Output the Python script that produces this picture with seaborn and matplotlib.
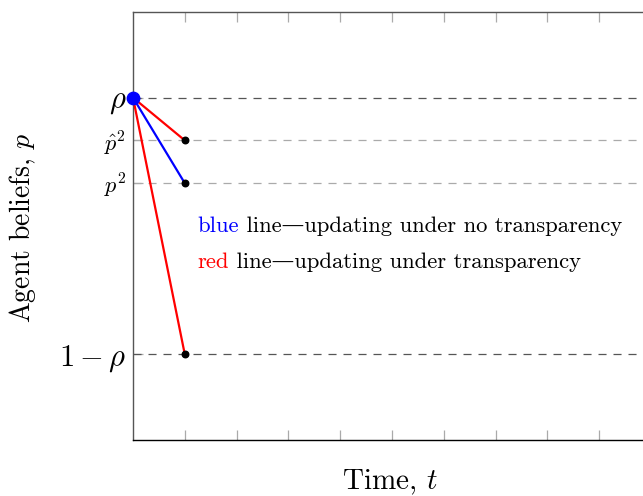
import matplotlib
matplotlib.use("Agg")
import matplotlib.pyplot as plt
import seaborn as sns
import pandas as pd

# beliefs
t = [0, 1]
rho = 0.8
p_hat2 = 0.7
p2 = 0.6
one_minus_rho = 0.2

levels = [rho, p_hat2, p2, one_minus_rho]
level_labels = [r'$\rho$', r'$\hat{p}^2$', r'$p^2$', r'$1-\rho$']
x_ticks = list(range(1, 11))

segments = pd.DataFrame({
    "t": t * 3,
    "p": [rho, p_hat2, rho, p2, rho, one_minus_rho],
    "seg": ["red_hat", "red_hat", "blue", "blue", "red_low", "red_low"],
})
seg_colors = {"red_hat": "#ff0000", "blue": "#0000ff", "red_low": "#ff0000"}

sns.set_style("ticks")
plt.rcParams['font.family'] = ['cmr10', 'DejaVu Serif']
plt.rcParams['mathtext.fontset'] = 'cm'
plt.rcParams['axes.formatter.use_mathtext'] = True
plt.rcParams['lines.scale_dashes'] = False

fig = plt.figure(figsize=(6.43, 4.96), dpi=100)
ax = fig.add_axes([133/643, 56/496, 518/643, 428/496])

# dashed reference levels
for lv in levels:
    col = '#555555' if lv in (rho, one_minus_rho) else '#aaaaaa'
    ax.axhline(lv, color=col, lw=0.9, linestyle=(0, (5.8, 5.0)), zorder=1)

sns.lineplot(data=segments, x="t", y="p", hue="seg", palette=seg_colors,
             estimator=None, sort=False, lw=1.6, legend=False, ax=ax, zorder=3)

ends = segments[segments["t"] == 1]
ax.scatter(ends["t"], ends["p"], s=22, color='black', zorder=4)
ax.scatter([0], [rho], s=80, color='#0000ff', zorder=5, clip_on=False)

ax.set_xlim(0, 10)
ax.set_ylim(0, 1)
ax.set_xticks(x_ticks)
ax.set_xticklabels([])
ax.set_yticks(levels)
ax.set_yticklabels(level_labels)
for lab, fs in zip(ax.get_yticklabels(), [22, 16, 16, 22]):
    lab.set_fontsize(fs)

ax.tick_params(axis='x', which='both', direction='in', length=7, width=0.9,
               color='#aaaaaa', top=True, bottom=True)
ax.tick_params(axis='y', direction='in', length=7, width=0.9, color='#aaaaaa',
               pad=5, labelcolor='black')

ax.spines['right'].set_visible(False)
ax.spines['left'].set_color('#555555')
ax.spines['top'].set_color('#555555')
ax.spines['bottom'].set_color('black')
for s in ['left', 'top', 'bottom']:
    ax.spines[s].set_linewidth(1.0)

ax.set_xlabel(r'Time, $t$', fontsize=21, color='black')
ax.set_ylabel(r'Agent beliefs, $p$', fontsize=20, color='black')
ax.xaxis.set_label_coords(0.495, -0.1)
ax.xaxis.label.set_va('center')
ax.yaxis.set_label_coords(-0.214, 0.495)
ax.yaxis.label.set_va('center')

# inline legend text
b = ax.text(1.25, 0.5, 'blue', color='#0000ff', fontsize=16.3, va='center')
ax.annotate(' line\u2014updating under no transparency', xy=(1, 0), xycoords=b,
            va='bottom', ha='left', fontsize=16.3, color='black')
r = ax.text(1.25, 0.416, 'red', color='#ff0000', fontsize=16.3, va='center')
ax.annotate(' line\u2014updating under transparency', xy=(1, 0), xycoords=r,
            va='bottom', ha='left', fontsize=16.3, color='black')

fig.savefig("out.png", dpi=100)
